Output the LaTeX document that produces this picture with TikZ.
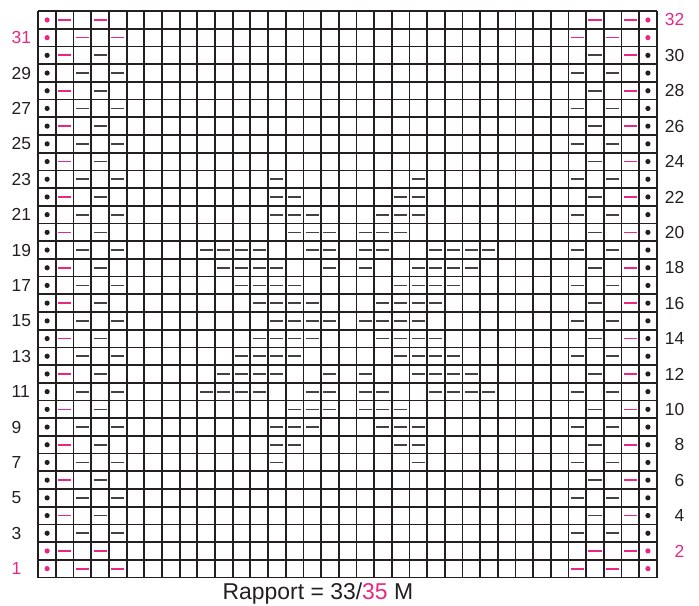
\documentclass[tikz,border=0pt]{standalone}
\usepackage{fontspec}
\setmainfont{Liberation Sans}
\definecolor{pk}{RGB}{234,38,130}
\definecolor{ink}{RGB}{35,31,32}
\begin{document}
\begin{tikzpicture}[x=1bp,y=-1bp,
  gridline/.style={line width=1.7bp,draw=ink},
  dsh/.style={line width=1.7bp,draw=ink!85},
  pdsh/.style={line width=1.7bp,draw=pk},
  lab/.style={inner sep=0pt,font=\fontsize{17.5}{17.5}\selectfont,text=ink},
  plab/.style={lab,text=pk}]
\useasboundingbox (0,0) rectangle (699,606);
\def\XO{38.3}\def\YB{577.5}\def\SX{17.67}\def\SY{17.70}
% grid
\foreach \i in {0,...,35}
  \draw[gridline] ({\XO+\i*\SX},11) -- ({\XO+\i*\SX},\YB);
\foreach \j in {0,...,32}
  \draw[gridline] (\XO,{\YB-\j*\SY}) -- ({\XO+35*\SX},{\YB-\j*\SY});
% dots
\foreach \r in {1,...,32}{
  \ifnum\r<3 \def\dc{pk}\else\ifnum\r>30 \def\dc{pk}\else\def\dc{ink}\fi\fi
  \fill[\dc] ({\XO+0.5*\SX},{\YB-(\r-0.5)*\SY}) circle (2.6bp);
  \fill[\dc] ({\XO+34.5*\SX},{\YB-(\r-0.5)*\SY}) circle (2.6bp);
}
% border dashes: odd rows
\foreach \r in {3,5,...,29}
  \foreach \c in {3,5,31,33}
    \draw[dsh] ({\XO+(\c-0.5)*\SX-6.6},{\YB-(\r-0.5)*\SY}) -- ++(13.2,0);
\foreach \r in {1,31}
  \foreach \c in {3,5,31,33}
    \draw[pdsh] ({\XO+(\c-0.5)*\SX-6.6},{\YB-(\r-0.5)*\SY}) -- ++(13.2,0);
% border dashes: even rows
\foreach \r in {4,6,...,30}{
  \foreach \c in {4,32}
    \draw[dsh] ({\XO+(\c-0.5)*\SX-6.6},{\YB-(\r-0.5)*\SY}) -- ++(13.2,0);
  \foreach \c in {2,34}
    \draw[pdsh] ({\XO+(\c-0.5)*\SX-6.6},{\YB-(\r-0.5)*\SY}) -- ++(13.2,0);
}
\foreach \r in {2,32}
  \foreach \c in {2,4,32,34}
    \draw[pdsh] ({\XO+(\c-0.5)*\SX-6.6},{\YB-(\r-0.5)*\SY}) -- ++(13.2,0);
% central motif
\foreach \r/\cl in {
  7/{14,22}, 23/{14,22},
  8/{14,15,21,22}, 22/{14,15,21,22},
  9/{14,15,16,20,21,22}, 21/{14,15,16,20,21,22},
  10/{15,16,17,19,20,21}, 20/{15,16,17,19,20,21},
  11/{10,11,12,13,16,17,19,20,23,24,25,26}, 19/{10,11,12,13,16,17,19,20,23,24,25,26},
  12/{11,12,13,14,17,19,22,23,24,25}, 18/{11,12,13,14,17,19,22,23,24,25},
  13/{12,13,14,15,21,22,23,24}, 17/{12,13,14,15,21,22,23,24},
  14/{13,14,15,16,20,21,22,23}, 16/{13,14,15,16,20,21,22,23},
  15/{14,15,16,17,19,20,21,22}}
  \foreach \c in \cl
    \draw[dsh] ({\XO+(\c-0.5)*\SX-6.6},{\YB-(\r-0.5)*\SY}) -- ++(13.2,0);
% row labels
\foreach \r in {3,5,...,29}
  \node[lab,anchor=west] (l\r) at (11.5,{\YB-(\r-0.5)*\SY}) {\r};
\node[plab,anchor=west] (l1) at (11.5,{\YB-0.5*\SY}) {1};
\node[plab,anchor=west] (l31) at (11.5,{\YB-30.5*\SY}) {31};
\foreach \r in {4,6,...,30}
  \node[lab,anchor=east] (r\r) at (684.5,{\YB-(\r-0.5)*\SY}) {\r};
\node[plab,anchor=east] (r2) at (684.5,{\YB-1.5*\SY}) {2};
\node[plab,anchor=east] (r32) at (684.5,{\YB-31.5*\SY}) {32};
% caption
\node[inner sep=0pt,anchor=base west,font=\fontsize{23}{23}\selectfont,text=ink] (cap) at (222.5,599.5)
  {Rapport = 33/\textcolor{pk}{35} M};
\end{tikzpicture}
\end{document}
